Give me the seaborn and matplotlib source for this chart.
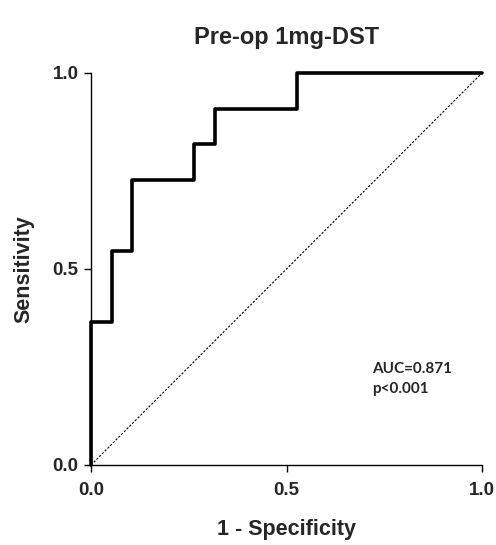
import pandas as pd
import numpy as np
import matplotlib
matplotlib.use("Agg")
import matplotlib.pyplot as plt
import seaborn as sns

# ROC curve points (1 - specificity, sensitivity)
fpr = [0.0, 0.0, 0.053, 0.053, 0.105, 0.105, 0.263, 0.263, 0.316, 0.316, 0.526, 0.526, 1.0]
tpr = [0.0, 0.364, 0.364, 0.545, 0.545, 0.727, 0.727, 0.818, 0.818, 0.909, 0.909, 1.0, 1.0]
ref_line = [0.0, 1.0]
ticks = [0.0, 0.5, 1.0]
tick_labels = ["0.0", "0.5", "1.0"]

sns.set_style("ticks")
plt.rcParams['font.family'] = ['Liberation Sans', 'DejaVu Sans']

df = pd.DataFrame({'fpr': fpr, 'tpr': tpr})

fig = plt.figure(figsize=(4.96, 5.45), dpi=100)
ax = fig.add_axes([0.1835, 0.1468, 0.7883, 0.7193])

sns.lineplot(x=ref_line, y=ref_line, ax=ax, color='black', lw=0.8,
             linestyle=(0, (2, 1.5)), clip_on=False)
sns.lineplot(data=df, x='fpr', y='tpr', ax=ax, sort=False, estimator=None,
             color='black', lw=2.6, clip_on=False)

ax.set_xlim(0, 1)
ax.set_ylim(0, 1)
ax.set_xticks(ticks)
ax.set_xticklabels(tick_labels, fontsize=13.5, fontweight='bold')
ax.set_yticks(ticks)
ax.set_yticklabels(tick_labels, fontsize=13.5, fontweight='bold')
ax.tick_params(axis='x', length=5, width=1, color='black', pad=7)
ax.tick_params(axis='y', length=5, width=1, color='black', pad=4)
for s in ['left', 'bottom']:
    ax.spines[s].set_linewidth(1)
    ax.spines[s].set_color('black')
sns.despine(ax=ax)

ax.set_xlabel('1 - Specificity', fontsize=15.5, fontweight='bold', labelpad=15)
ax.set_ylabel('Sensitivity', fontsize=15.5, fontweight='bold', labelpad=13)
ax.set_title('Pre-op 1mg-DST', fontsize=17, fontweight='bold', pad=21)

ax.text(0.718, 0.262, 'AUC=0.871\np<0.001', transform=ax.transAxes,
        fontsize=11, fontweight='bold', family=['Lato', 'DejaVu Sans'],
        va='top', ha='left', linespacing=1.55)

plt.savefig('out.png', dpi=100)
plt.close()
